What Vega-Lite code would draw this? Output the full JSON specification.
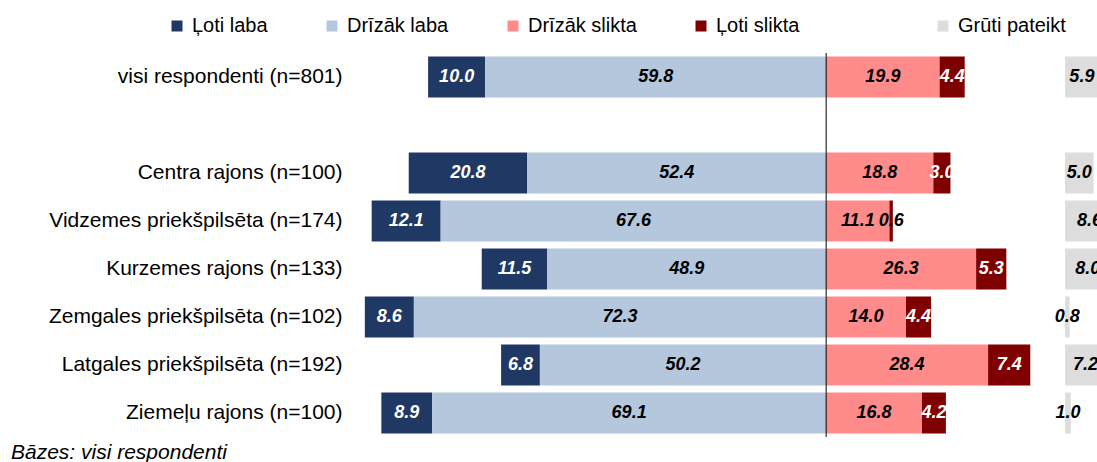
{
  "$schema": "https://vega.github.io/schema/vega-lite/v6.json",
  "width": 747,
  "height": 384,
  "autosize": {"type": "none"},
  "padding": {"left": 350, "top": 53, "right": 0, "bottom": 25},
  "background": "white",
  "config": {"view": {"stroke": null}, "font": "Liberation Sans"},
  "title": {"text": "Bāzes: visi respondenti", "orient": "bottom", "anchor": "start", "frame": "group", "dx": -339, "offset": 21, "baseline": "alphabetic", "fontSize": 21, "fontStyle": "italic", "fontWeight": "normal", "color": "black", "font": "Liberation Sans"},
  "data": {"values": [
    {"row": "visi respondenti (n=801)", "cat": "Ļoti laba", "v": 10.0},
    {"row": "visi respondenti (n=801)", "cat": "Drīzāk laba", "v": 59.8},
    {"row": "visi respondenti (n=801)", "cat": "Drīzāk slikta", "v": 19.9},
    {"row": "visi respondenti (n=801)", "cat": "Ļoti slikta", "v": 4.4},
    {"row": "visi respondenti (n=801)", "cat": "Grūti pateikt", "v": 5.9},
    {"row": "Centra rajons (n=100)", "cat": "Ļoti laba", "v": 20.8},
    {"row": "Centra rajons (n=100)", "cat": "Drīzāk laba", "v": 52.4},
    {"row": "Centra rajons (n=100)", "cat": "Drīzāk slikta", "v": 18.8},
    {"row": "Centra rajons (n=100)", "cat": "Ļoti slikta", "v": 3.0},
    {"row": "Centra rajons (n=100)", "cat": "Grūti pateikt", "v": 5.0},
    {"row": "Vidzemes priekšpilsēta (n=174)", "cat": "Ļoti laba", "v": 12.1},
    {"row": "Vidzemes priekšpilsēta (n=174)", "cat": "Drīzāk laba", "v": 67.6},
    {"row": "Vidzemes priekšpilsēta (n=174)", "cat": "Drīzāk slikta", "v": 11.1},
    {"row": "Vidzemes priekšpilsēta (n=174)", "cat": "Ļoti slikta", "v": 0.6},
    {"row": "Vidzemes priekšpilsēta (n=174)", "cat": "Grūti pateikt", "v": 8.6},
    {"row": "Kurzemes rajons (n=133)", "cat": "Ļoti laba", "v": 11.5},
    {"row": "Kurzemes rajons (n=133)", "cat": "Drīzāk laba", "v": 48.9},
    {"row": "Kurzemes rajons (n=133)", "cat": "Drīzāk slikta", "v": 26.3},
    {"row": "Kurzemes rajons (n=133)", "cat": "Ļoti slikta", "v": 5.3},
    {"row": "Kurzemes rajons (n=133)", "cat": "Grūti pateikt", "v": 8.0},
    {"row": "Zemgales priekšpilsēta (n=102)", "cat": "Ļoti laba", "v": 8.6},
    {"row": "Zemgales priekšpilsēta (n=102)", "cat": "Drīzāk laba", "v": 72.3},
    {"row": "Zemgales priekšpilsēta (n=102)", "cat": "Drīzāk slikta", "v": 14.0},
    {"row": "Zemgales priekšpilsēta (n=102)", "cat": "Ļoti slikta", "v": 4.4},
    {"row": "Zemgales priekšpilsēta (n=102)", "cat": "Grūti pateikt", "v": 0.8},
    {"row": "Latgales priekšpilsēta (n=192)", "cat": "Ļoti laba", "v": 6.8},
    {"row": "Latgales priekšpilsēta (n=192)", "cat": "Drīzāk laba", "v": 50.2},
    {"row": "Latgales priekšpilsēta (n=192)", "cat": "Drīzāk slikta", "v": 28.4},
    {"row": "Latgales priekšpilsēta (n=192)", "cat": "Ļoti slikta", "v": 7.4},
    {"row": "Latgales priekšpilsēta (n=192)", "cat": "Grūti pateikt", "v": 7.2},
    {"row": "Ziemeļu rajons (n=100)", "cat": "Ļoti laba", "v": 8.9},
    {"row": "Ziemeļu rajons (n=100)", "cat": "Drīzāk laba", "v": 69.1},
    {"row": "Ziemeļu rajons (n=100)", "cat": "Drīzāk slikta", "v": 16.8},
    {"row": "Ziemeļu rajons (n=100)", "cat": "Ļoti slikta", "v": 4.2},
    {"row": "Ziemeļu rajons (n=100)", "cat": "Grūti pateikt", "v": 1.0}
  ]},
  "layer": [
    {
      "transform": [
        {"filter": "datum.cat === 'Ļoti laba' || datum.cat === 'Drīzāk laba'"},
        {"stack": "v", "groupby": ["row"], "sort": [{"field": "cat", "order": "ascending"}], "as": ["v0", "v1"]}
      ],
      "encoding": {
        "y": {"field": "row", "type": "nominal", "sort": null,
          "scale": {"domain": ["visi respondenti (n=801)", " ", "Centra rajons (n=100)", "Vidzemes priekšpilsēta (n=174)", "Kurzemes rajons (n=133)", "Zemgales priekšpilsēta (n=102)", "Latgales priekšpilsēta (n=192)", "Ziemeļu rajons (n=100)"], "paddingInner": 0.146, "paddingOuter": 0.073},
          "axis": {"title": null, "domain": false, "ticks": false, "labelFontSize": 21, "labelColor": "black", "labelFont": "Liberation Sans", "labelPadding": 8, "labelLimit": 400}}
      },
      "layer": [
        {"mark": {"type": "bar"},
         "encoding": {
            "x": {"field": "v0", "type": "quantitative", "scale": {"domain": [-47.5, 83.5], "reverse": true, "nice": false, "zero": false}, "axis": null},
            "x2": {"field": "v1"},
            "color": {"field": "cat", "type": "nominal",
            "scale": {"domain": ["Ļoti laba", "Drīzāk laba", "Drīzāk slikta", "Ļoti slikta", " ", "Grūti pateikt"], "range": ["#203864", "#B4C7DC", "#FF8B8B", "#7F0000", "rgba(0,0,0,0)", "#DDDDDD"]},
            "legend": {"orient": "none", "legendX": -183, "legendY": -37, "direction": "horizontal", "columns": 6, "title": null, "symbolType": "square", "symbolSize": 121, "symbolStrokeWidth": 0, "labelFontSize": 20, "labelFont": "Liberation Sans", "labelColor": "black", "labelOffset": 5, "columnPadding": 54, "labelLimit": 300}}}},
        {"transform": [
            {"fold": ["v0", "v1"], "as": ["k", "pos"]},
            {"aggregate": [{"op": "mean", "field": "pos", "as": "mid"}], "groupby": ["row", "cat", "v"]}
         ],
         "mark": {"type": "text", "fontSize": 18, "fontWeight": "bold", "fontStyle": "italic", "baseline": "middle", "align": "center"},
         "encoding": {
            "x": {"field": "mid", "type": "quantitative", "scale": {"domain": [-47.5, 83.5], "reverse": true, "nice": false, "zero": false}, "axis": null},
            "text": {"field": "v", "type": "quantitative", "format": ".1f"},
            "color": {"condition": {"test": "datum.cat === 'Ļoti laba' && datum.v >= 1", "value": "white"}, "value": "black"}}}
      ]
    },
    {
      "transform": [
        {"filter": "datum.cat === 'Ļoti slikta' || datum.cat === 'Drīzāk slikta'"},
        {"stack": "v", "groupby": ["row"], "sort": [{"field": "cat", "order": "ascending"}], "as": ["v0", "v1"]}
      ],
      "encoding": {
        "y": {"field": "row", "type": "nominal", "sort": null,
          "scale": {"domain": ["visi respondenti (n=801)", " ", "Centra rajons (n=100)", "Vidzemes priekšpilsēta (n=174)", "Kurzemes rajons (n=133)", "Zemgales priekšpilsēta (n=102)", "Latgales priekšpilsēta (n=192)", "Ziemeļu rajons (n=100)"], "paddingInner": 0.146, "paddingOuter": 0.073},
          "axis": {"title": null, "domain": false, "ticks": false, "labelFontSize": 21, "labelColor": "black", "labelFont": "Liberation Sans", "labelPadding": 8, "labelLimit": 400}}
      },
      "layer": [
        {"mark": {"type": "bar"},
         "encoding": {
            "x": {"field": "v0", "type": "quantitative", "scale": {"domain": [-83.5, 47.5], "nice": false, "zero": false}, "axis": null},
            "x2": {"field": "v1"},
            "color": {"field": "cat", "type": "nominal",
            "scale": {"domain": ["Ļoti laba", "Drīzāk laba", "Drīzāk slikta", "Ļoti slikta", " ", "Grūti pateikt"], "range": ["#203864", "#B4C7DC", "#FF8B8B", "#7F0000", "rgba(0,0,0,0)", "#DDDDDD"]},
            "legend": {"orient": "none", "legendX": -183, "legendY": -37, "direction": "horizontal", "columns": 6, "title": null, "symbolType": "square", "symbolSize": 121, "symbolStrokeWidth": 0, "labelFontSize": 20, "labelFont": "Liberation Sans", "labelColor": "black", "labelOffset": 5, "columnPadding": 54, "labelLimit": 300}}}},
        {"transform": [
            {"fold": ["v0", "v1"], "as": ["k", "pos"]},
            {"aggregate": [{"op": "mean", "field": "pos", "as": "mid"}], "groupby": ["row", "cat", "v"]}
         ],
         "mark": {"type": "text", "fontSize": 18, "fontWeight": "bold", "fontStyle": "italic", "baseline": "middle", "align": "center"},
         "encoding": {
            "x": {"field": "mid", "type": "quantitative", "scale": {"domain": [-83.5, 47.5], "nice": false, "zero": false}, "axis": null},
            "text": {"field": "v", "type": "quantitative", "format": ".1f"},
            "color": {"condition": {"test": "datum.cat === 'Ļoti slikta' && datum.v >= 1", "value": "white"}, "value": "black"}}}
      ]
    },
    {
      "transform": [
        {"filter": "datum.cat === 'Grūti pateikt'"},
        {"stack": "v", "groupby": ["row"], "sort": [{"field": "cat", "order": "ascending"}], "as": ["v0", "v1"]}
      ],
      "encoding": {
        "y": {"field": "row", "type": "nominal", "sort": null,
          "scale": {"domain": ["visi respondenti (n=801)", " ", "Centra rajons (n=100)", "Vidzemes priekšpilsēta (n=174)", "Kurzemes rajons (n=133)", "Zemgales priekšpilsēta (n=102)", "Latgales priekšpilsēta (n=192)", "Ziemeļu rajons (n=100)"], "paddingInner": 0.146, "paddingOuter": 0.073},
          "axis": {"title": null, "domain": false, "ticks": false, "labelFontSize": 21, "labelColor": "black", "labelFont": "Liberation Sans", "labelPadding": 8, "labelLimit": 400}}
      },
      "layer": [
        {"mark": {"type": "bar"},
         "encoding": {
            "x": {"field": "v0", "type": "quantitative", "scale": {"domain": [-125.4, 5.6], "nice": false, "zero": false}, "axis": null},
            "x2": {"field": "v1"},
            "color": {"field": "cat", "type": "nominal",
            "scale": {"domain": ["Ļoti laba", "Drīzāk laba", "Drīzāk slikta", "Ļoti slikta", " ", "Grūti pateikt"], "range": ["#203864", "#B4C7DC", "#FF8B8B", "#7F0000", "rgba(0,0,0,0)", "#DDDDDD"]},
            "legend": {"orient": "none", "legendX": -183, "legendY": -37, "direction": "horizontal", "columns": 6, "title": null, "symbolType": "square", "symbolSize": 121, "symbolStrokeWidth": 0, "labelFontSize": 20, "labelFont": "Liberation Sans", "labelColor": "black", "labelOffset": 5, "columnPadding": 54, "labelLimit": 300}}}},
        {"transform": [
            {"fold": ["v0", "v1"], "as": ["k", "pos"]},
            {"aggregate": [{"op": "mean", "field": "pos", "as": "mid"}], "groupby": ["row", "cat", "v"]}
         ],
         "mark": {"type": "text", "fontSize": 18, "fontWeight": "bold", "fontStyle": "italic", "baseline": "middle", "align": "center", "color": "black"},
         "encoding": {
            "x": {"field": "mid", "type": "quantitative", "scale": {"domain": [-125.4, 5.6], "nice": false, "zero": false}, "axis": null},
            "text": {"field": "v", "type": "quantitative", "format": ".1f"}}}
      ]
    },
    {
      "data": {"values": [{}]},
      "mark": {"type": "rule", "color": "black", "strokeWidth": 1},
      "encoding": {"x": {"datum": 0, "type": "quantitative", "scale": {"domain": [-83.5, 47.5], "nice": false, "zero": false}, "axis": null}}
    }
  ],
  "resolve": {"scale": {"x": "independent"}}
}
